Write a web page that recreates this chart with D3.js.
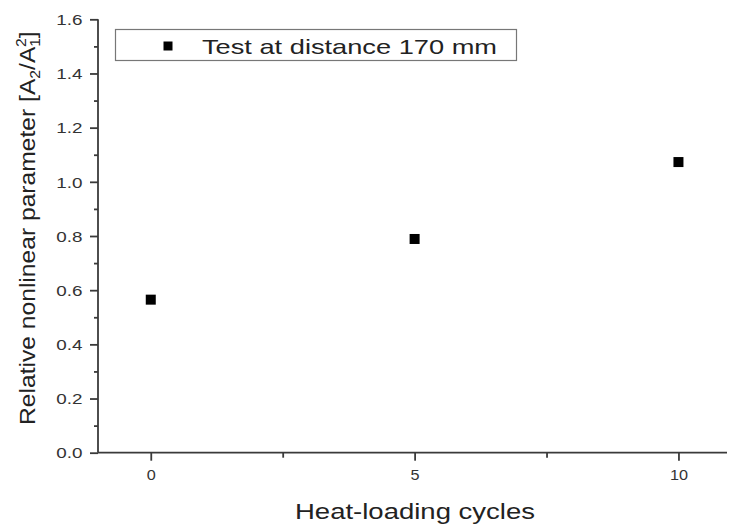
<!DOCTYPE html>
<html><head><meta charset="utf-8">
<script src="https://cdn.jsdelivr.net/npm/d3@7"></script>
<style>body{margin:0;background:#fff}svg{display:block}text{font-family:"Liberation Sans",Arial,sans-serif}</style>
</head><body>
<script>
const cycles = [0, 5, 10];
const values = [0.565, 0.789, 1.073];
const seriesName = "Test at distance 170 mm";
const xTicks = [0, 5, 10];
const xMinorTicks = [2.5, 7.5];
const yTicks = [0.0, 0.2, 0.4, 0.6, 0.8, 1.0, 1.2, 1.4, 1.6];
const yMinorTicks = [0.1, 0.3, 0.5, 0.7, 0.9, 1.1, 1.3, 1.5];

const W = 729, H = 528;
const svg = d3.select("body").append("svg").attr("width", W).attr("height", H);
const x = d3.scaleLinear().domain([-1, 10.92]).range([98, 727]);
const y = d3.scaleLinear().domain([0, 1.6]).range([452.7, 19.3]);
const axisColor = "#3a3a3a", textColor = "#333";

// x axis
const gx = svg.append("g").attr("transform", `translate(0,${y(0)})`);
gx.append("g").call(d3.axisBottom(x).tickValues(xMinorTicks).tickSize(5).tickFormat(""));
const gxM = gx.append("g").call(d3.axisBottom(x).tickValues(xTicks).tickSize(8).tickFormat(d3.format("d")));
gx.selectAll("path.domain").remove();
gx.append("line").attr("x1", 98).attr("x2", 727).attr("stroke", axisColor).attr("stroke-width", 1.8);
gxM.selectAll(".tick text").attr("y", null).attr("dy", null)
  .attr("transform", "translate(0,27) scale(1.12,1)");

// y axis
const gy = svg.append("g").attr("transform", `translate(${x(-1)},0)`);
gy.append("g").call(d3.axisLeft(y).tickValues(yMinorTicks).tickSize(4).tickFormat(""));
const gyM = gy.append("g").call(d3.axisLeft(y).tickValues(yTicks).tickSize(8).tickFormat(d3.format(".1f")));
gy.selectAll("path.domain").remove();
gy.append("line").attr("y1", y(0)).attr("y2", y(1.6)).attr("stroke", axisColor).attr("stroke-width", 1.8);
gyM.selectAll(".tick text").attr("x", null).attr("dy", "0.36em")
  .attr("transform", "translate(-15.5,0) scale(1.3,1)");

svg.selectAll(".tick line").attr("stroke", axisColor).attr("stroke-width", 1.8);
svg.selectAll(".tick text").attr("fill", textColor).attr("font-size", 14.5)
  .attr("font-family", "Liberation Sans, Arial, sans-serif");

// points
svg.append("g").selectAll("rect").data(cycles).join("rect")
  .attr("x", (d) => x(d) - 5).attr("y", (d, i) => y(values[i]) - 5)
  .attr("width", 10).attr("height", 10).attr("fill", "#000");

// legend
const lg = svg.append("g");
lg.append("rect").attr("x", 115.5).attr("y", 29.5).attr("width", 401).attr("height", 31)
  .attr("fill", "#fff").attr("stroke", "#777").attr("stroke-width", 1.2);
lg.append("rect").attr("x", 163.5).attr("y", 41.5).attr("width", 9).attr("height", 9).attr("fill", "#000");
lg.append("text").attr("x", 202).attr("y", 53.5).attr("font-size", 21).attr("fill", "#222")
  .attr("textLength", 295).attr("lengthAdjust", "spacingAndGlyphs").text(seriesName);

// axis titles
svg.append("text").attr("x", 295).attr("y", 519).attr("font-size", 22).attr("fill", "#222")
  .attr("textLength", 240).attr("lengthAdjust", "spacingAndGlyphs").text("Heat-loading cycles");

const yt = svg.append("text").attr("transform", "translate(35,425) rotate(-90) scale(1.12,1)")
  .attr("font-size", 22).attr("fill", "#222");
yt.append("tspan").text("Relative nonlinear parameter [A");
yt.append("tspan").attr("font-size", 14).attr("dy", 5).text("2");
yt.append("tspan").attr("dy", -5).text("/A");
yt.append("tspan").attr("font-size", 14).attr("dy", 5).text("1");
yt.append("tspan").attr("font-size", 14).attr("dy", -14).attr("dx", -8).text("2");
yt.append("tspan").attr("dy", 9).text("]");
</script>
</body></html>
